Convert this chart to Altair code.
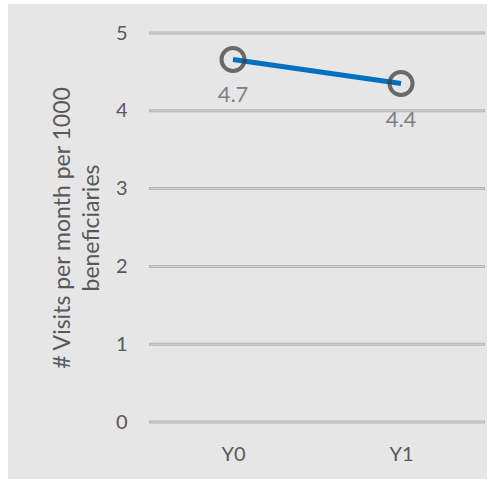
import altair as alt
import pandas as pd

periods = ["Y0", "Y1"]
visits = [4.66, 4.35]
labels = ["4.7", "4.4"]
y_ticks = [0, 1, 2, 3, 4, 5]

df = pd.DataFrame({"period": periods, "visits": visits, "label": labels})
grid_df = pd.DataFrame({"tick": y_ticks})

FONT = "Lato"
W, H = 336, 389

x_enc = alt.X("period:N", sort=periods, scale=alt.Scale(type="point", padding=0.5),
              axis=alt.Axis(title=None, labelAngle=0, labelFontSize=20, labelColor="#595959",
                            labelFont=FONT, domain=False, ticks=False, labelPadding=22, grid=False,
                            zindex=1))
y_enc = alt.Y("visits:Q", scale=alt.Scale(domain=[0, 5], nice=False),
              axis=alt.Axis(title=["# Visits per month per 1000", "beneficiaries"], values=y_ticks,
                            format="d",
                            titleFontSize=23, titleColor="#595959", titleFont=FONT, titleFontWeight="normal",
                            titleLineHeight=29, titlePadding=12,
                            labelFontSize=20, labelColor="#595959", labelFont=FONT, labelPadding=22,
                            domain=False, ticks=False, grid=False, zindex=1))

bg = alt.Chart(df).mark_rect(color="#e7e6e6", clip=False).encode(
    x=alt.value(-141), x2=alt.value(W + 2), y=alt.value(-29), y2=alt.value(446))

grid_outer = alt.Chart(grid_df).mark_rule(color="#b3b3b3", strokeWidth=3).encode(
    y=alt.Y("tick:Q", scale=alt.Scale(domain=[0, 5], nice=False)), x=alt.value(0), x2=alt.value(W))
grid_inner = alt.Chart(grid_df).mark_rule(color="#d6d6d6", strokeWidth=1).encode(
    y=alt.Y("tick:Q", scale=alt.Scale(domain=[0, 5], nice=False)), x=alt.value(1), x2=alt.value(W - 1))

base = alt.Chart(df)
line = base.mark_line(color="#0070c0", strokeWidth=5).encode(x=x_enc, y=y_enc)
pts = base.mark_point(shape="circle", filled=False, size=529, stroke="#404040", strokeWidth=4,
                      opacity=0.75).encode(x="period:N", y="visits:Q")
txt = base.mark_text(dy=36, fontSize=22, color="#808080", font=FONT).encode(
    x="period:N", y="visits:Q", text="label:N")

chart = alt.layer(bg, grid_outer, grid_inner, line, pts, txt).properties(
    width=W, height=H,
    autosize=alt.AutoSizeParams(type="none"),
    padding={"left": 149, "top": 33, "right": 19, "bottom": 59},
).configure(background="white").configure_view(stroke=None)

chart.save("out.html", embed_options={"renderer": "svg", "actions": False})
